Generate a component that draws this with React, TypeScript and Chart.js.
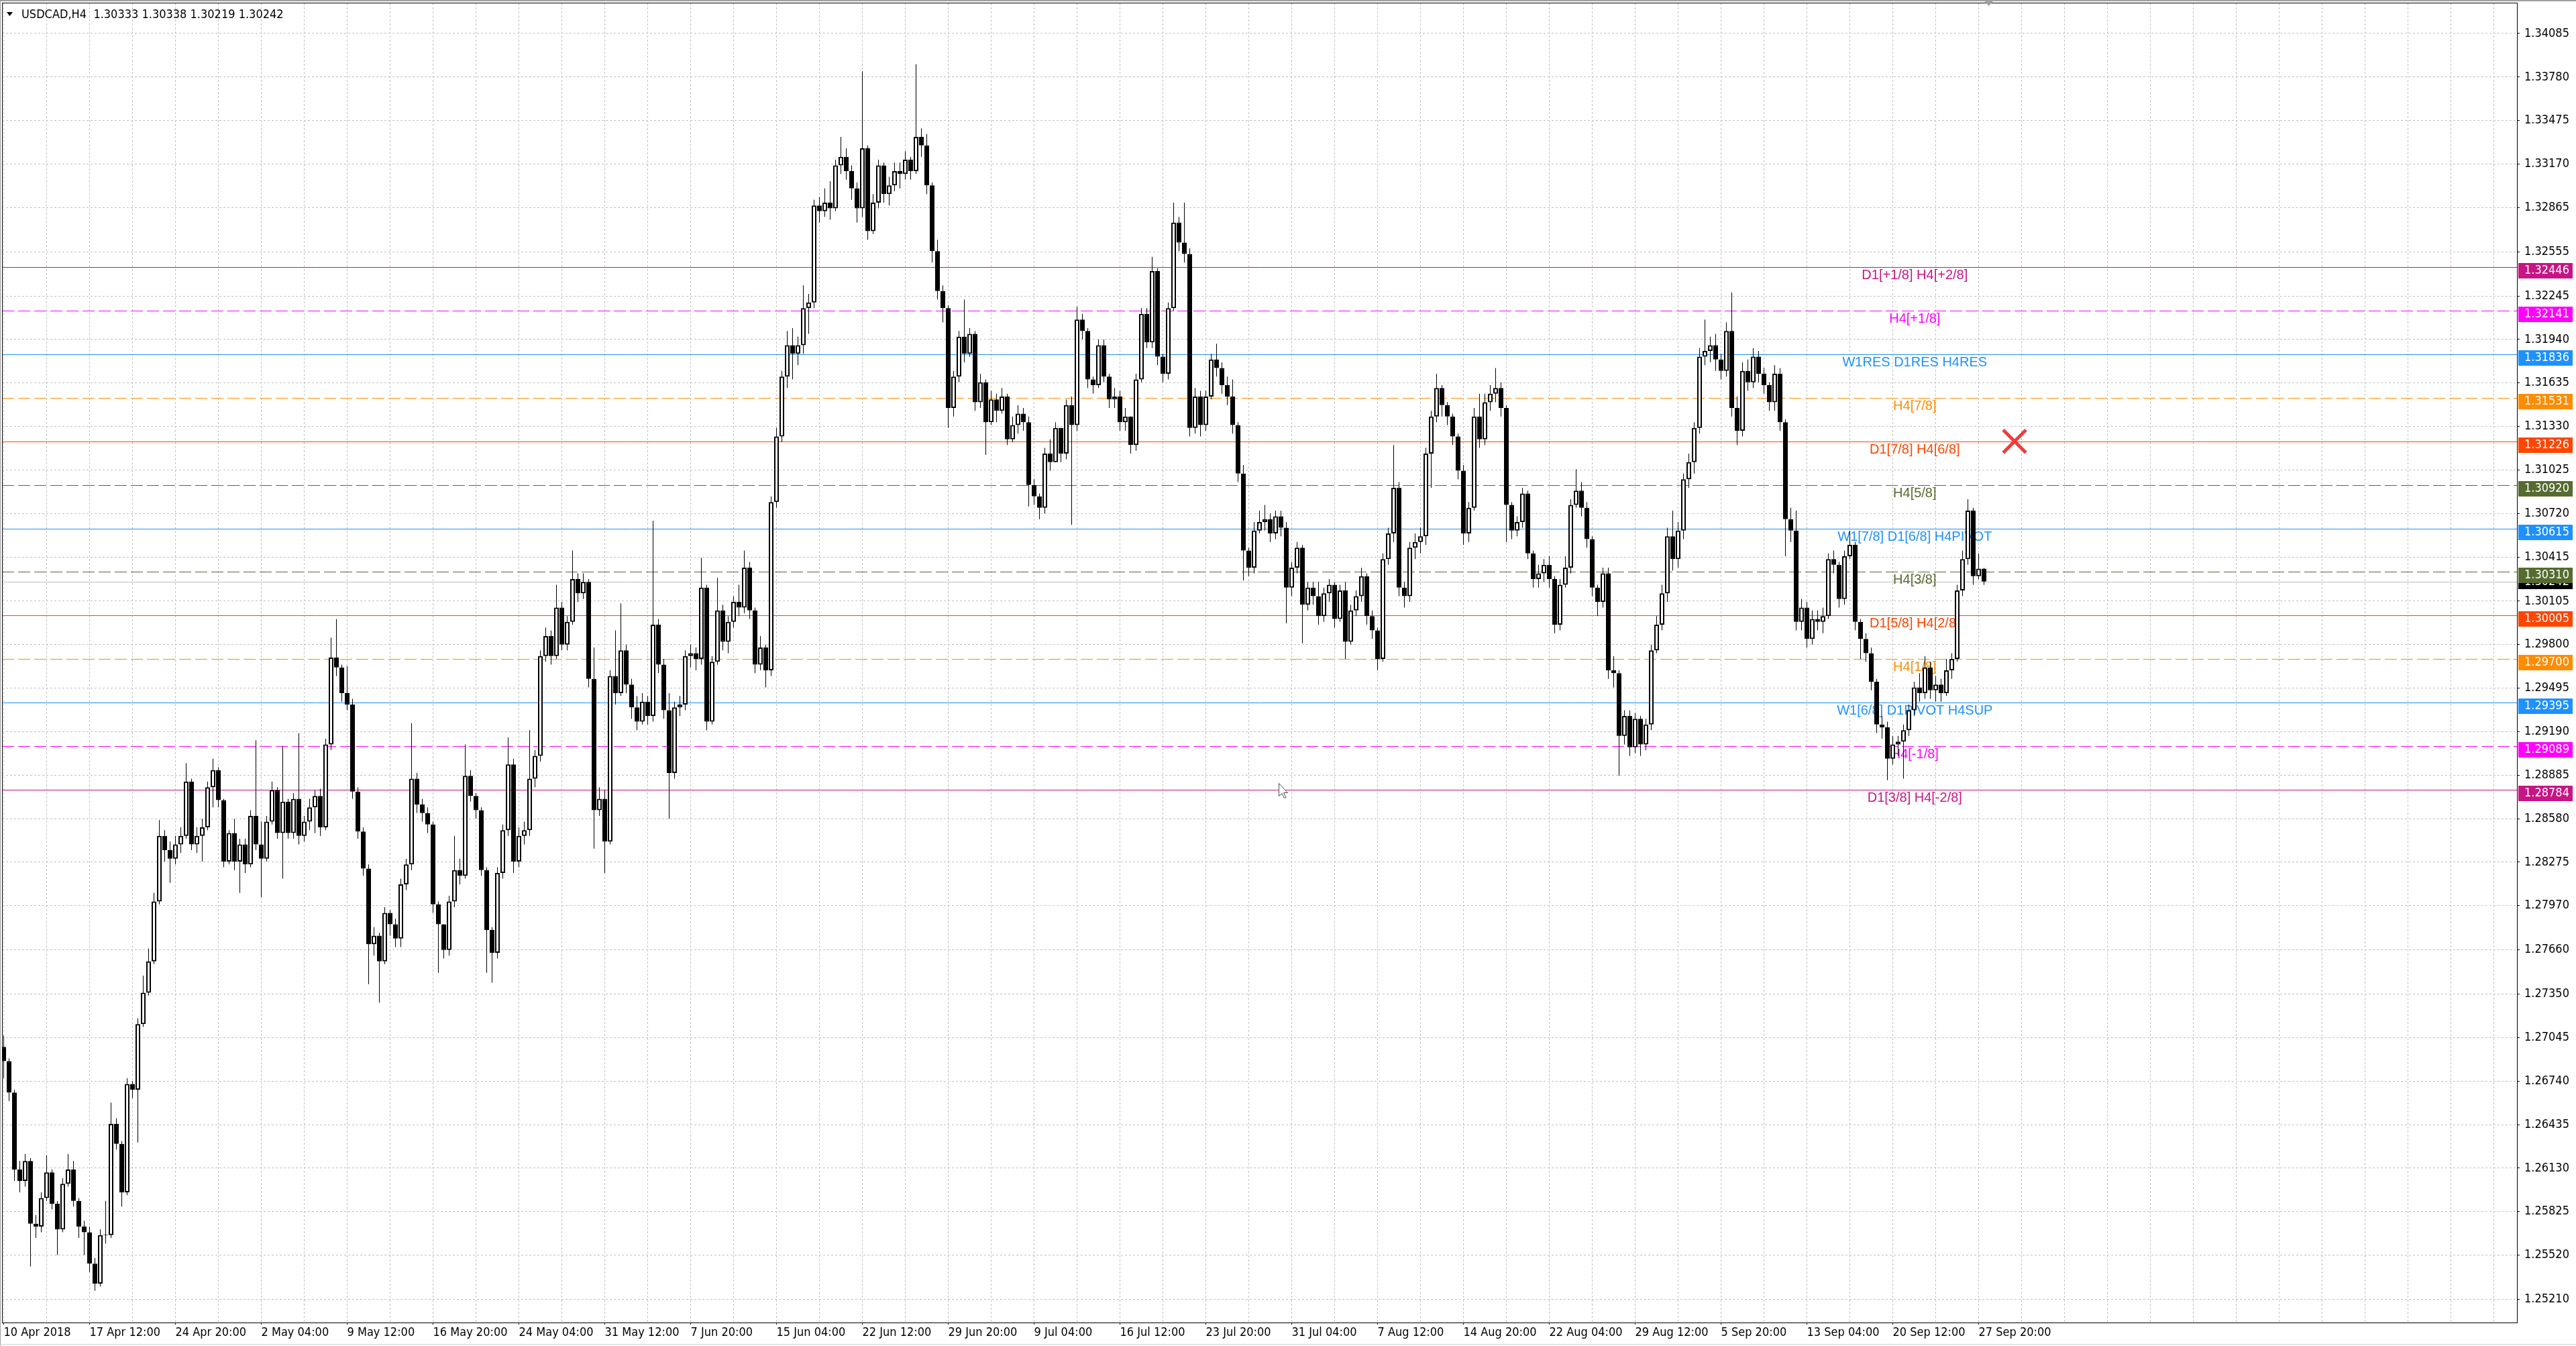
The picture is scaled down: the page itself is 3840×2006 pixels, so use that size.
import React, { useEffect, useRef } from "react";
import { Chart, registerables } from "chart.js";

Chart.register(...registerables);

// Prices are stored in 0.0001 steps above BASE (1.25000)
const BASE = 1.25;
const FIRST_OPEN = 198;
const CLOSE = [
  188,166,112,104,118,74,72,92,110,88,
  70,102,112,90,72,68,46,32,66,66,
  144,130,96,172,168,214,236,258,300,346,
  336,330,340,346,384,340,346,352,380,392,
  371,328,348,328,340,326,360,340,330,356,
  378,348,370,348,372,346,356,366,374,352,
  410,471,464,446,438,377,349,323,270,276,
  258,292,284,274,312,326,386,368,362,354,
  298,284,266,300,322,318,388,374,364,322,
  280,264,320,350,396,328,346,350,386,402,
  472,486,472,506,480,496,526,516,524,456,
  364,372,342,458,446,476,452,436,426,440,
  430,494,466,434,390,436,438,472,474,470,
  520,426,468,504,482,496,510,506,534,504,
  466,478,462,580,626,668,690,684,690,716,
  720,788,784,790,786,816,822,812,800,786,
  828,770,790,816,796,802,812,810,820,812,
  836,830,802,756,728,716,646,668,696,684,
  698,650,664,636,652,644,654,624,634,642,
  636,592,584,576,614,608,632,614,648,634,
  708,700,666,662,690,668,652,654,636,640,
  620,666,712,692,742,682,670,716,776,762,
  754,632,654,634,654,680,674,662,654,634,
  600,546,534,560,566,568,558,570,562,520,
  534,548,508,520,514,500,516,522,498,518,
  482,504,514,528,500,490,470,540,558,590,
  520,514,548,552,556,614,640,660,648,640,
  626,602,558,576,640,624,650,656,660,646,
  578,560,566,586,544,526,530,536,526,494,
  522,534,578,588,576,554,520,510,530,462,
  460,416,430,408,428,410,424,476,494,516,
  556,540,560,596,608,632,682,686,690,680,
  672,700,646,630,672,664,682,670,662,650,
  670,636,568,560,496,506,484,498,496,500,
  540,536,512,542,550,496,484,474,454,424,
  422,400,410,412,420,434,450,446,464,448,
  452,446,462,470,518,540,574,528,533.3,524.2,
];
const HIGH = [
  206,190,168,118,123,120,80,96,122,112,
  90,106,123,118,92,76,72,50,70,90,
  159,148,132,176,174,218,248,267,306,357,
  350,342,346,352,397,386,352,358,384,400,
  394,372,350,358,344,344,364,413,356,360,
  384,380,409,372,376,418,360,372,378,379,
  414,485,498,466,465,442,380,352,326,282,
  278,296,294,288,316,330,425,390,372,366,
  356,300,284,304,346,330,410,392,376,366,
  324,282,324,354,415,400,352,356,420,406,
  476,492,490,522,510,500,546,530,530,526,
  478,380,378,462,490,509,480,456,444,446,
  444,567,498,470,446,440,444,476,480,478,
  541,522,472,527,508,500,514,522,546,538,
  506,486,480,584,632,672,700,702,696,732,
  726,792,794,800,805,820,836,828,816,804,
  882,830,796,820,818,808,818,818,826,822,
  887,842,838,804,764,732,718,672,700,722,
  702,700,670,666,658,656,660,656,640,648,
  646,640,596,586,618,624,636,632,652,654,
  717,712,702,668,694,694,670,660,658,646,
  640,670,716,716,752,744,684,720,790,780,
  790,758,660,658,658,684,691,678,668,666,
  636,606,548,566,574,578,572,574,574,566,
  538,552,550,524,524,524,520,526,524,522,
  524,508,518,534,530,504,492,544,562,620,
  594,524,552,558,562,618,644,670,662,650,
  642,628,606,580,646,656,656,662,674,664,
  648,580,570,590,588,546,536,540,542,528,
  526,542,582,603,594,580,556,522,534,534,
  472,462,434,434,432,430,428,480,500,522,
  562,574,566,600,614,636,688,708,696,698,
  684,706,727,654,678,680,688,686,674,664,
  676,674,638,576,574,512,510,504,504,506,
  544,546,538,546,560,552,498,488,478,456,
  430,426,416,416,424,438,454,460,472,468,
  458,456,470,474,522,546,582,576,544,533.8,
];
const LOW = [
  176,160,104,96,100,44,64,68,90,84,
  52,68,100,86,64,52,40,27,30,60,
  64,126,86,94,162,131,212,234,256,298,
  328,313,326,334,344,336,334,328,350,366,
  366,324,326,322,306,320,324,336,303,328,
  354,344,316,344,344,340,342,350,348,346,
  350,406,458,440,434,372,344,318,242,262,
  229,256,276,268,268,308,322,362,356,348,
  292,250,260,262,296,312,316,370,358,318,
  250,243,260,316,346,320,324,340,346,380,
  398,468,466,470,476,476,494,510,512,450,
  337,360,320,340,438,444,446,428,420,424,
  424,426,460,428,358,386,430,434,464,462,
  466,420,424,466,476,474,492,500,502,498,
  460,462,450,458,576,622,660,666,676,684,
  698,716,776,780,778,784,810,806,792,776,
  780,764,768,786,790,788,798,800,806,806,
  810,822,796,748,722,706,632,640,664,678,
  682,644,646,613,634,636,642,620,622,628,
  630,577,578,568,572,602,608,608,610,564,
  630,694,660,656,660,664,646,646,630,630,
  614,616,664,688,688,676,664,666,714,756,
  748,626,628,626,630,652,668,656,648,628,
  594,525,528,530,558,560,552,554,556,495,
  514,530,481,504,508,494,496,510,492,496,
  470,480,500,510,494,484,462,468,536,552,
  514,506,510,540,544,550,590,636,640,634,
  620,596,550,552,574,618,620,644,650,640,
  552,554,556,562,540,520,520,524,520,488,
  490,520,530,576,570,548,514,500,506,456,
  450,388,410,402,404,402,406,420,474,490,
  510,532,534,554,590,600,628,676,678,672,
  666,668,640,620,626,658,660,664,656,644,
  644,630,542,552,490,490,478,480,490,488,
  498,530,506,508,540,490,470,468,448,418,
  414,385,396,402,386,416,430,440,442,442,
  440,440,444,456,468,514,536,522,526,521.9,
];

const X_LABELS = [
  "10 Apr 2018", "17 Apr 12:00", "24 Apr 20:00", "2 May 04:00", "9 May 12:00",
  "16 May 20:00", "24 May 04:00", "31 May 12:00", "7 Jun 20:00", "15 Jun 04:00",
  "22 Jun 12:00", "29 Jun 20:00", "9 Jul 04:00", "16 Jul 12:00", "23 Jul 20:00",
  "31 Jul 04:00", "7 Aug 12:00", "14 Aug 20:00", "22 Aug 04:00", "29 Aug 12:00",
  "5 Sep 20:00", "13 Sep 04:00", "20 Sep 12:00", "27 Sep 20:00",
];
const PRICE_TICKS = [
  1.34085, 1.3378, 1.33475, 1.3317, 1.32865, 1.32555, 1.32245, 1.3194, 1.31635, 1.3133,
  1.31025, 1.3072, 1.30415, 1.30105, 1.298, 1.29495, 1.2919, 1.28885, 1.2858, 1.28275,
  1.2797, 1.2766, 1.2735, 1.27045, 1.2674, 1.26435, 1.2613, 1.25825, 1.2552, 1.2521,
];

const LEVEL_PRICES = [1.32446, 1.32141, 1.31836, 1.31531, 1.31226, 1.3092, 1.30615, 1.3031, 1.30005, 1.297, 1.29395, 1.29089, 1.28784];
const LEVEL_COLORS = ["#c71585", "#ff00ff", "#1e90ff", "#ff8c00", "#ff4500", "#556b2f", "#1e90ff", "#556b2f", "#ff4500", "#ff8c00", "#1e90ff", "#ff00ff", "#c71585"];
const LEVEL_DASHED = [false, true, false, true, false, true, false, true, false, true, false, true, false];
const LEVEL_LABELS = [
  "D1[+1/8] H4[+2/8]", "H4[+1/8]", "W1RES D1RES H4RES", "H4[7/8]", "D1[7/8] H4[6/8]",
  "H4[5/8]", "W1[7/8] D1[6/8] H4PIVOT", "H4[3/8]", "D1[5/8] H4[2/8]", "H4[1/8]",
  "W1[6/8] D1PIVOT H4SUP", "H4[-1/8]", "D1[3/8] H4[-2/8]",
];

const SYMBOL = "USDCAD,H4";
const LAST_OHLC = [1.30333, 1.30338, 1.30219, 1.30242];
const CURRENT_PRICE = 1.30242;
const LABEL_X = 356.1;       // bar index where level captions are centred
const MARKER = { x: 374.7, y: 1.31226 };
const CURSOR = [237.6, 1.2883];
const SHIFT_MARK = 369.9;

// scale ranges (bar index / price)
const X_MIN = -0.3125;
const X_MAX = X_MIN + 3749 / 8;
const Y_MAX = 1.342967;
const Y_MIN = 1.250475;

const AXIS_FONT = '"DejaVu Sans Condensed", "DejaVu Sans", sans-serif';

export default function App() {
  const ref = useRef<HTMLCanvasElement>(null);

  useEffect(() => {
    document.body.style.margin = "0";
    document.body.style.overflow = "hidden";
    const canvas = ref.current;
    if (!canvas) return;

    const price = (v: number) => BASE + v / 10000;
    const opens = CLOSE.map((c, i) => (i === 0 ? FIRST_OPEN : CLOSE[i - 1]));
    const bodies = CLOSE.map((c, i) => ({ x: i, y: [price(opens[i]), price(c)] }));
    const wicks = CLOSE.map((c, i) => ({ x: i, y: [price(LOW[i]), price(HIGH[i])] }));
    const bodyColors = CLOSE.map((c, i) => (c >= opens[i] ? "#ffffff" : "#000000"));
    const xGrid: number[] = [];
    for (let v = 0; v <= X_MAX; v += 8) xGrid.push(v);

    const overlay = {
      id: "mt4overlay",
      beforeDraw(chart: any) {
        const { ctx } = chart;
        ctx.save();
        ctx.fillStyle = "#ffffff";
        ctx.fillRect(0, 0, chart.width, chart.height);
        ctx.fillStyle = "#a0a0a0";
        ctx.fillRect(0, 0, chart.width, 2);
        ctx.fillRect(0, 0, 1, chart.height);
        ctx.fillStyle = "#d4d4d4";
        ctx.fillRect(0, chart.height - 3, chart.width, 1);
        ctx.restore();
      },
      beforeDatasetsDraw(chart: any) {
        const { ctx, chartArea: a, scales } = chart;
        const x = scales.x, y = scales.y;
        ctx.save();
        const hline = (p: number, color: string, dash: number[]) => {
          const py = Math.round(y.getPixelForValue(p)) + 0.5;
          ctx.strokeStyle = color;
          ctx.lineWidth = 1;
          ctx.setLineDash(dash);
          ctx.beginPath();
          ctx.moveTo(a.left, py);
          ctx.lineTo(a.right, py);
          ctx.stroke();
        };
        hline(CURRENT_PRICE, "#c0c0c0", []);
        LEVEL_PRICES.forEach((p, k) => hline(p, LEVEL_COLORS[k], LEVEL_DASHED[k] ? [18, 6] : []));
        ctx.setLineDash([]);
        ctx.font = '20px "Liberation Sans", Arial, sans-serif';
        ctx.textAlign = "center";
        ctx.textBaseline = "alphabetic";
        const lx = x.getPixelForValue(LABEL_X);
        LEVEL_PRICES.forEach((p, k) => {
          ctx.fillStyle = LEVEL_COLORS[k];
          ctx.fillText(LEVEL_LABELS[k], lx, Math.round(y.getPixelForValue(p)) + 18);
        });
        ctx.restore();
      },
      afterDraw(chart: any) {
        const { ctx, chartArea: a, scales } = chart;
        const x = scales.x, y = scales.y;
        ctx.save();
        // frame
        ctx.strokeStyle = "#000";
        ctx.lineWidth = 1;
        ctx.setLineDash([]);
        ctx.strokeRect(a.left + 0.5, a.top - 0.5, a.right - a.left, a.bottom - a.top + 1);
        // axis price tags
        ctx.font = "18px " + AXIS_FONT;
        ctx.textAlign = "left";
        ctx.textBaseline = "middle";
        const cp = Math.round(y.getPixelForValue(CURRENT_PRICE));
        ctx.fillStyle = "#000";
        ctx.fillRect(a.right + 2, cp - 11, 81, 22);
        ctx.fillStyle = "#fff";
        ctx.fillText(CURRENT_PRICE.toFixed(5), a.right + 11, cp);
        LEVEL_PRICES.forEach((p, k) => {
          const py = Math.round(y.getPixelForValue(p));
          ctx.fillStyle = LEVEL_COLORS[k];
          ctx.fillRect(a.right + 2, py - 6, 81, 23);
          ctx.fillStyle = "#fff";
          ctx.fillText(p.toFixed(5), a.right + 11, py + 5.5);
        });
        // title
        ctx.fillStyle = "#000";
        ctx.beginPath();
        ctx.moveTo(10, 18);
        ctx.lineTo(19, 18);
        ctx.lineTo(14.5, 24);
        ctx.closePath();
        ctx.fill();
        ctx.fillText(SYMBOL + "  " + LAST_OHLC.map((v) => v.toFixed(5)).join(" "), 32, 22);
        // chart shift marker
        const sx = x.getPixelForValue(SHIFT_MARK);
        ctx.fillStyle = "#a0a0a0";
        ctx.beginPath();
        ctx.moveTo(sx - 7, 1);
        ctx.lineTo(sx + 7, 1);
        ctx.lineTo(sx, 9);
        ctx.closePath();
        ctx.fill();
        // mouse cursor
        const cx = Math.round(x.getPixelForValue(CURSOR[0])) + 0.5;
        const cy = Math.round(y.getPixelForValue(CURSOR[1])) + 0.5;
        const pts = [[0, 0], [0, 19], [4.5, 15], [8, 22], [10.5, 21], [7, 14], [13, 14]];
        ctx.beginPath();
        pts.forEach(([dx, dy], k) => (k ? ctx.lineTo(cx + dx, cy + dy) : ctx.moveTo(cx + dx, cy + dy)));
        ctx.closePath();
        ctx.fillStyle = "#fff";
        ctx.fill();
        ctx.strokeStyle = "#505050";
        ctx.stroke();
        ctx.restore();
      },
    };

    const chart = new Chart(canvas, {
      type: "bar",
      data: {
        datasets: [
          {
            type: "scatter",
            data: [MARKER],
            pointStyle: "crossRot",
            pointRadius: 24,
            pointBorderColor: "#f03c3c",
            pointBorderWidth: 5,
            pointBackgroundColor: "rgba(0,0,0,0)",
            order: 0,
          } as any,
          {
            data: bodies,
            backgroundColor: bodyColors,
            borderColor: "#000",
            borderWidth: 2,
            borderSkipped: false,
            barThickness: 7,
            minBarLength: 1,
            grouped: false,
            inflateAmount: 0,
            order: 1,
          } as any,
          {
            data: wicks,
            backgroundColor: "#000",
            borderWidth: 0,
            barThickness: 1,
            grouped: false,
            inflateAmount: 0,
            order: 2,
          } as any,
        ],
      },
      options: {
        responsive: false,
        animation: false,
        devicePixelRatio: 1,
        events: [],
        layout: { autoPadding: false, padding: { left: 3, top: 5, right: 0, bottom: 0 } },
        plugins: { legend: { display: false }, tooltip: { enabled: false } },
        scales: {
          x: {
            type: "linear",
            min: X_MIN,
            max: X_MAX,
            offset: false,
            afterBuildTicks: (s: any) => {
              s.ticks = xGrid.map((v) => ({ value: v }));
            },
            afterFit: (s: any) => {
              s.height = 35;
              s.paddingLeft = 0;
              s.paddingRight = 0;
            },
            grid: {
              offset: false,
              color: "#c0c0c0",
              lineWidth: 1,
              tickLength: 3,
              tickWidth: 1,
              tickBorderDash: [],
              tickColor: (c: any) =>
                c.tick && c.tick.value % 16 === 0 && c.tick.value / 16 < X_LABELS.length ? "#000" : "rgba(0,0,0,0)",
            },
            border: { display: false, dash: [3, 3] },
            ticks: {
              autoSkip: false,
              maxRotation: 0,
              minRotation: 0,
              align: "start",
              padding: 2,
              color: "#000",
              font: { family: AXIS_FONT, size: 18 },
              callback: (v: any) => {
                const n = Number(v);
                return n % 16 === 0 && n / 16 < X_LABELS.length ? X_LABELS[n / 16] : "";
              },
            },
          } as any,
          y: {
            type: "linear",
            position: "right",
            min: Y_MIN,
            max: Y_MAX,
            afterBuildTicks: (s: any) => {
              s.ticks = PRICE_TICKS.map((v) => ({ value: v }));
            },
            afterFit: (s: any) => {
              s.width = 88;
              s.paddingTop = 0;
              s.paddingBottom = 0;
            },
            grid: {
              color: "#c0c0c0",
              lineWidth: 1,
              tickLength: 4,
              tickWidth: 1,
              tickColor: "#000",
              tickBorderDash: [],
            },
            border: { display: false, dash: [3, 3] },
            ticks: {
              padding: 7,
              color: "#000",
              font: { family: AXIS_FONT, size: 18 },
              callback: (v: any) => Number(v).toFixed(5),
            },
          } as any,
        },
      } as any,
      plugins: [overlay],
    });

    return () => chart.destroy();
  }, []);

  return (
    <canvas
      ref={ref}
      width={3840}
      height={2006}
      style={{ display: "block", width: 3840, height: 2006 }}
    />
  );
}
